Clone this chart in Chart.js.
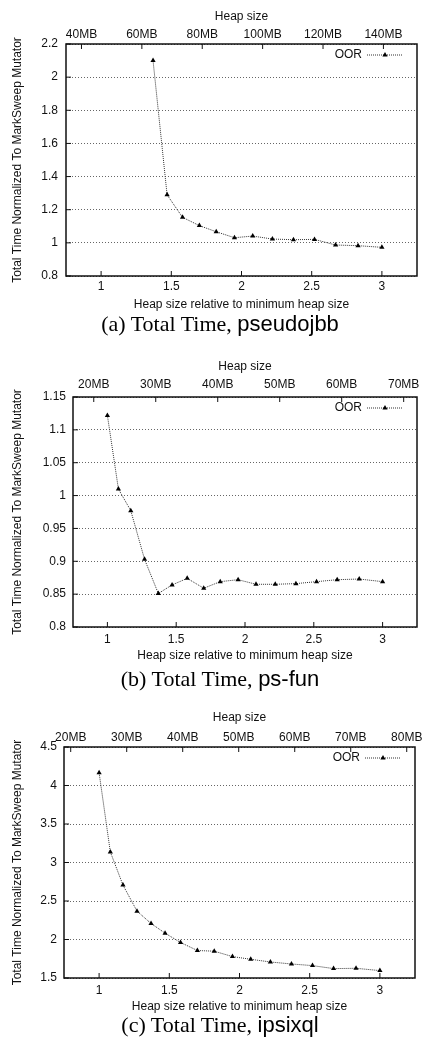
<!DOCTYPE html>
<html>
<head>
<meta charset="utf-8">
<script src="https://cdn.jsdelivr.net/npm/chart.js@4.4.1/dist/chart.umd.min.js"></script>
<style>
    body { margin: 0; width: 422px; height: 1040px; background: #fff; position: relative; overflow: hidden; }
    canvas { position: absolute; left: 0; }
    .caption { position: absolute; left: 9px; width: 422px; text-align: center; white-space: nowrap;
               font: 22px "Liberation Serif", "Times New Roman", serif; line-height: 22px; color: #000; }
    .caption span { font-family: "Liberation Sans", Arial, Helvetica, sans-serif; }
</style>
</head>
<body>
<canvas id="chart-a" width="422" height="316" style="top:0px"></canvas>
<div class="caption" style="top:313px">(a) Total Time, <span>pseudojbb</span></div>
<canvas id="chart-b" width="422" height="317" style="top:350px"></canvas>
<div class="caption" style="top:668px">(b) Total Time, <span>ps-fun</span></div>
<canvas id="chart-c" width="422" height="318" style="top:700px"></canvas>
<div class="caption" style="top:1014px">(c) Total Time, <span>ipsixql</span></div>
<script>
// Heap size relative to minimum heap size (same steps for every benchmark)
const heapRatios = [1, 1.08, 1.17, 1.27, 1.37, 1.47, 1.58, 1.70, 1.82, 1.95, 2.08, 2.22, 2.37, 2.52, 2.67, 2.83, 3.0];

// Total time normalized to MarkSweep mutator (pseudojbb has no runs below 1.37x)
const pseudojbbTime = [null, null, null, null, 2.10, 1.29, 1.154, 1.104, 1.067, 1.031, 1.041, 1.023, 1.019, 1.021, 0.987, 0.983, 0.973];
const psFunTime = [1.122, 1.010, 0.977, 0.903, 0.851, 0.864, 0.874, 0.859, 0.869, 0.872, 0.865, 0.865, 0.866, 0.869, 0.872, 0.873, 0.869];
const ipsixqlTime = [4.165, 3.137, 2.707, 2.368, 2.208, 2.082, 1.961, 1.857, 1.848, 1.778, 1.743, 1.708, 1.682, 1.661, 1.622, 1.626, 1.596];

// Minimum heap size in MB, used for the top axis
const pseudojbbMinHeap = 46.5;
const psFunMinHeap = 22.2;
const ipsixqlMinHeap = 25.07;

// Tick labels
const ratioTicks = [1, 1.5, 2, 2.5, 3];
const pseudojbbMBTicks = [40, 60, 80, 100, 120, 140];
const psFunMBTicks = [20, 30, 40, 50, 60, 70];
const ipsixqlMBTicks = [20, 30, 40, 50, 60, 70, 80];
const pseudojbbYTicks = [0.8, 1, 1.2, 1.4, 1.6, 1.8, 2, 2.2];
const psFunYTicks = [0.8, 0.85, 0.9, 0.95, 1, 1.05, 1.1, 1.15];
const ipsixqlYTicks = [1.5, 2, 2.5, 3, 3.5, 4, 4.5];

const FONT = '"Liberation Sans", Arial, Helvetica, sans-serif';
const INK = '#111';

Chart.defaults.font.family = FONT;
Chart.defaults.font.size = 12;
Chart.defaults.color = INK;

// gnuplot look: inward tick marks, solid frame and the key in the top right corner
const gnuplotFrame = {
    id: 'gnuplotFrame',
    afterDraw(chart) {
        const ctx = chart.ctx;
        const area = chart.chartArea;
        ctx.save();
        ctx.strokeStyle = INK;
        ctx.lineWidth = 1;
        Object.values(chart.scales).forEach((scale) => {
            scale.ticks.forEach((t) => {
                const p = scale.getPixelForValue(t.value);
                ctx.beginPath();
                if (scale.position == 'top') {
                    ctx.moveTo(p, area.top); ctx.lineTo(p, area.top + 5);
                } else if (scale.position == 'bottom') {
                    ctx.moveTo(p, area.bottom); ctx.lineTo(p, area.bottom - 5);
                } else {
                    ctx.moveTo(area.left, p); ctx.lineTo(area.left + 5, p);
                }
                ctx.stroke();
            });
        });
        ctx.lineWidth = 1.5;
        ctx.strokeRect(area.left, area.top, area.right - area.left, area.bottom - area.top);

        // key
        const ds = chart.data.datasets[0];
        const ky = area.top + 11;
        ctx.fillStyle = INK;
        ctx.font = '12px ' + FONT;
        ctx.textAlign = 'right';
        ctx.textBaseline = 'middle';
        ctx.fillText(ds.label, area.right - 55, ky);
        ctx.beginPath();
        ctx.lineWidth = ds.borderWidth;
        ctx.strokeStyle = ds.borderColor;
        ctx.setLineDash(ds.borderDash);
        ctx.moveTo(area.right - 50, ky);
        ctx.lineTo(area.right - 15, ky);
        ctx.stroke();
        ctx.setLineDash([]);
        const r = ds.pointRadius, kx = area.right - 32;
        ctx.fillStyle = ds.pointBackgroundColor;
        ctx.beginPath();
        ctx.moveTo(kx, ky - r);
        ctx.lineTo(kx + r * 0.866, ky + r * 0.5);
        ctx.lineTo(kx - r * 0.866, ky + r * 0.5);
        ctx.closePath();
        ctx.fill();
        ctx.restore();
    }
};

const fmt = (v) => String(+(+v).toFixed(2));
const fixTicks = (values) => (scale) => { scale.ticks = values.map((v) => ({ value: v })); };
// fixed axis height, and no extra room for labels hanging past the ends
const fixHeight = (h) => (scale) => {
    scale.height = h;
    scale.paddingLeft = 0;
    scale.paddingRight = 0;
};

// Build the config for one panel
function prep_config(cd) {
    let points = [];
    heapRatios.forEach((r, i) => {
        if (cd.values[i] !== null) points.push({ x: r, y: cd.values[i] });
    });

    return {
        type: 'line',
        data: {
            datasets: [{
                label: 'OOR',
                data: points,
                borderColor: '#333',
                borderWidth: 1,
                borderDash: [1, 1],
                tension: 0,
                pointStyle: 'triangle',
                pointRadius: 3,
                pointBackgroundColor: '#000',
                pointBorderColor: '#000',
                pointBorderWidth: 0
            }]
        },
        options: {
            responsive: false,
            animation: false,
            devicePixelRatio: 1,
            layout: { padding: { right: cd.padRight, top: 0, left: 0, bottom: 0 } },
            plugins: {
                legend: { display: false },
                tooltip: { enabled: false }
            },
            scales: {
                x: {
                    type: 'linear',
                    position: 'bottom',
                    min: 0.75,
                    max: 3.25,
                    afterBuildTicks: fixTicks(ratioTicks),
                    afterFit: fixHeight(40),
                    grid: { display: false, drawTicks: false },
                    border: { display: false },
                    ticks: { padding: cd.xPad, maxRotation: 0, autoSkip: false, callback: fmt },
                    title: {
                        display: true,
                        text: 'Heap size relative to minimum heap size',
                        padding: { top: 0, bottom: 4 }
                    }
                },
                x2: {
                    type: 'linear',
                    position: 'top',
                    min: 0.75 * cd.minHeap,
                    max: 3.25 * cd.minHeap,
                    afterBuildTicks: fixTicks(cd.mbTicks),
                    afterFit: fixHeight(cd.topHeight),
                    grid: { display: false, drawTicks: false },
                    border: { display: false },
                    ticks: { padding: cd.x2Pad, maxRotation: 0, autoSkip: false, callback: (v) => v + 'MB' },
                    title: {
                        display: true,
                        text: 'Heap size',
                        padding: { top: cd.titlePad, bottom: 0 }
                    }
                },
                y: {
                    type: 'linear',
                    min: cd.yTicks[0],
                    max: cd.yTicks[cd.yTicks.length - 1],
                    afterBuildTicks: fixTicks(cd.yTicks),
                    afterFit: (s) => { s.width = cd.leftWidth; },
                    grid: { color: '#666', lineWidth: 1, drawTicks: false },
                    border: { display: false, dash: [1, 2] },
                    ticks: { padding: cd.yPad, autoSkip: false, callback: fmt },
                    title: {
                        display: true,
                        text: 'Total Time Normalized To MarkSweep Mutator',
                        padding: { top: 10, bottom: 0 }
                    }
                }
            }
        },
        plugins: [gnuplotFrame]
    };
}

const panels = [
    { id: 'a', values: pseudojbbTime, minHeap: pseudojbbMinHeap, mbTicks: pseudojbbMBTicks, yTicks: pseudojbbYTicks,
      leftWidth: 66, padRight: 5, topHeight: 44, titlePad: 9, x2Pad: 2, xPad: 3, yPad: 8 },
    { id: 'b', values: psFunTime, minHeap: psFunMinHeap, mbTicks: psFunMBTicks, yTicks: psFunYTicks,
      leftWidth: 73, padRight: 5, topHeight: 47, titlePad: 9, x2Pad: 5, xPad: 5, yPad: 7 },
    { id: 'c', values: ipsixqlTime, minHeap: ipsixqlMinHeap, mbTicks: ipsixqlMBTicks, yTicks: ipsixqlYTicks,
      leftWidth: 64, padRight: 7, topHeight: 47, titlePad: 10, x2Pad: 2, xPad: 5, yPad: 7 }
];

panels.forEach((cd) => {
    new Chart(document.getElementById('chart-' + cd.id), prep_config(cd));
});
</script>
</body>
</html>
